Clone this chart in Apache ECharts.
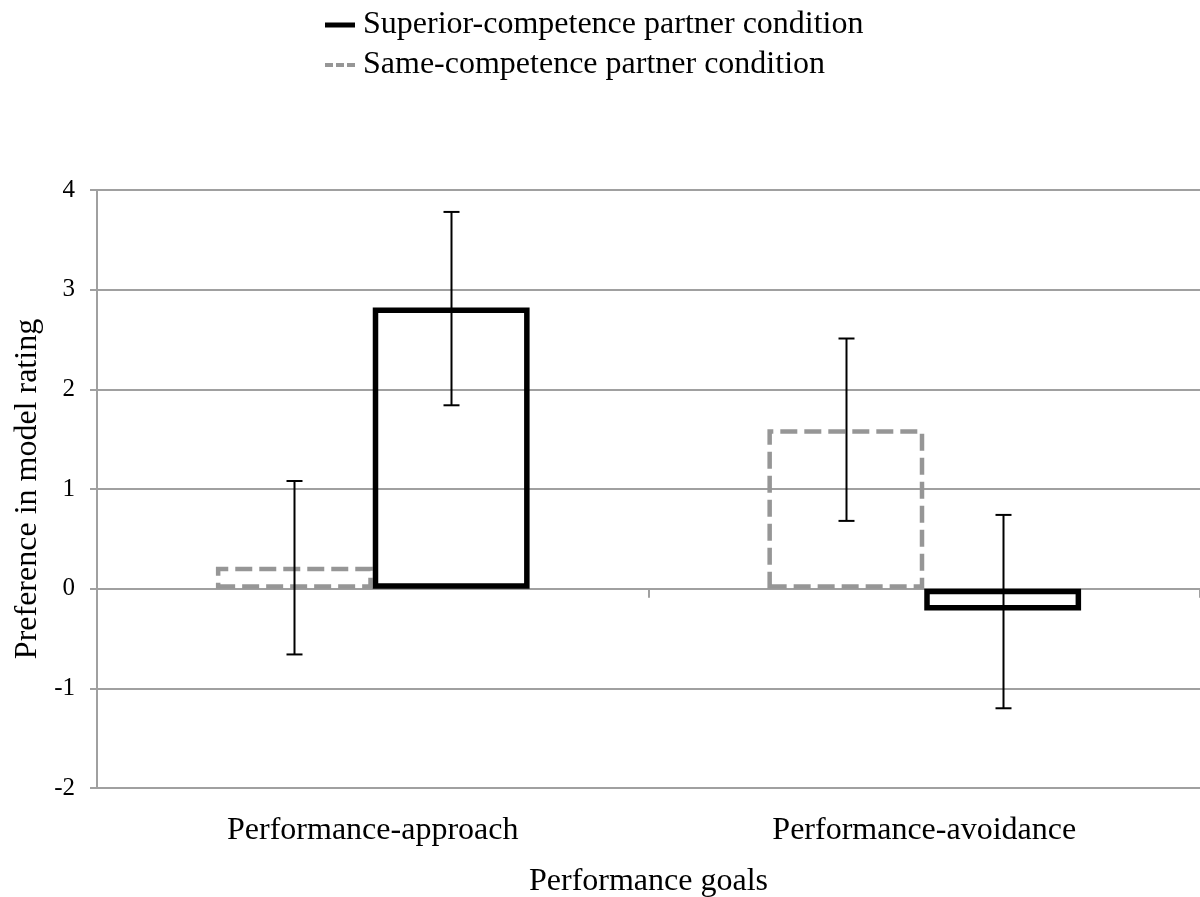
<!DOCTYPE html>
<html>
<head>
<meta charset="utf-8">
<script src="https://cdn.jsdelivr.net/npm/echarts@6/dist/echarts.min.js"></script>
<style>html,body{margin:0;padding:0;background:#fff;}#c{width:1200px;height:897px;}</style>
</head>
<body>
<div id="c"></div>
<script>
var categories = ['Performance-approach', 'Performance-avoidance'];
var seriesNames = ['Same-competence partner condition', 'Superior-competence partner condition'];
var sameValues = [0.22, 1.60];
var superiorValues = [2.82, -0.22];
var sameErrLow = [-0.66, 0.68];
var sameErrHigh = [1.08, 2.51];
var superiorErrLow = [1.84, -1.20];
var superiorErrHigh = [3.78, 0.74];
var yTicks = { min: -2, max: 4, interval: 1 };

var FONT = '"Liberation Serif", "Times New Roman", serif';
var GRAY = '#969696';
var GRID = '#a0a0a0';
var BAR_RATIO = 0.2844;

function errData(lo, hi) {
  return categories.map(function (c, i) { return [i, lo[i], hi[i]]; });
}
function errSeries(lo, hi, dir) {
  return {
    type: 'custom',
    xAxisIndex: 0,
    z: 10,
    silent: true,
    encode: { x: 0, y: [1, 2] },
    data: errData(lo, hi),
    renderItem: function (params, api) {
      var ci = api.value(0);
      var pLo = api.coord([ci, api.value(1)]);
      var pHi = api.coord([ci, api.value(2)]);
      var band = api.size([1, 0])[0];
      var x = Math.round(pLo[0] + dir * band * BAR_RATIO / 2) + 0.5;
      var cap = 8;
      var st = { stroke: '#000', lineWidth: 2 };
      return {
        type: 'group',
        children: [
          { type: 'line', shape: { x1: x, y1: pHi[1], x2: x, y2: pLo[1] }, style: st },
          { type: 'line', shape: { x1: x - cap, y1: pHi[1], x2: x + cap, y2: pHi[1] }, style: st },
          { type: 'line', shape: { x1: x - cap, y1: pLo[1], x2: x + cap, y2: pLo[1] }, style: st }
        ]
      };
    }
  };
}

var chart = echarts.init(document.getElementById('c'));
chart.setOption({
  animation: false,
  backgroundColor: '#fff',
  textStyle: { fontFamily: FONT },
  legend: {
    orient: 'vertical',
    left: 320,
    top: 4,
    itemWidth: 30,
    itemHeight: 5,
    itemGap: 8,
    textStyle: { fontFamily: FONT, fontSize: 32, color: '#000', lineHeight: 32, padding: [0, 0, 0, 3] },
    data: [
      { name: seriesNames[1], icon: 'rect', itemStyle: { color: '#000', borderWidth: 0 } },
      { name: seriesNames[0], icon: 'path://M0,0h8v4h-8z M11,0h8v4h-8z M22,0h8v4h-8z', itemStyle: { color: GRAY, borderWidth: 0 } }
    ]
  },
  grid: { left: 97, right: 0, top: 190, bottom: 109, containLabel: false, outerBoundsMode: 'none' },
  xAxis: [
    {
      type: 'category',
      data: categories,
      position: 'bottom',
      axisLine: { show: false, onZero: false },
      axisTick: { show: false },
      axisLabel: { fontFamily: FONT, fontSize: 32, color: '#000', margin: 27 },
      name: 'Performance goals',
      nameLocation: 'middle',
      nameGap: 78,
      nameTextStyle: { fontFamily: FONT, fontSize: 32, color: '#000' }
    },
    {
      type: 'category',
      data: categories,
      position: 'top',
      axisLine: { show: true, onZero: true, lineStyle: { color: GRID, width: 2 } },
      axisTick: { show: true, inside: true, length: 9, lineStyle: { color: GRID, width: 2 } },
      axisLabel: { show: false }
    }
  ],
  yAxis: {
    type: 'value',
    min: yTicks.min,
    max: yTicks.max,
    interval: yTicks.interval,
    axisLine: { show: true, lineStyle: { color: GRID, width: 2 } },
    axisTick: { show: true, length: 7, lineStyle: { color: GRID, width: 2 } },
    splitLine: { show: true, lineStyle: { color: GRID, width: 2 } },
    axisLabel: { fontFamily: FONT, fontSize: 25, color: '#000', margin: 22 },
    name: 'Preference in model rating',
    nameLocation: 'middle',
    nameGap: 50,
    nameTextStyle: { fontFamily: FONT, fontSize: 32, color: '#000' }
  },
  series: [
    {
      name: seriesNames[0],
      type: 'bar',
      xAxisIndex: 0,
      data: sameValues,
      barWidth: (BAR_RATIO * 100) + '%',
      barGap: '0%',
      z: 3,
      itemStyle: { color: 'rgba(255,255,255,0)', borderColor: GRAY, borderWidth: 4.5, borderType: [17, 7] }
    },
    {
      name: seriesNames[1],
      type: 'bar',
      xAxisIndex: 0,
      data: superiorValues,
      barWidth: (BAR_RATIO * 100) + '%',
      barGap: '0%',
      z: 4,
      itemStyle: { color: 'rgba(255,255,255,0)', borderColor: '#000', borderWidth: 5.5 }
    },
    errSeries(sameErrLow, sameErrHigh, -1),
    errSeries(superiorErrLow, superiorErrHigh, 1)
  ]
});
</script>
</body>
</html>
